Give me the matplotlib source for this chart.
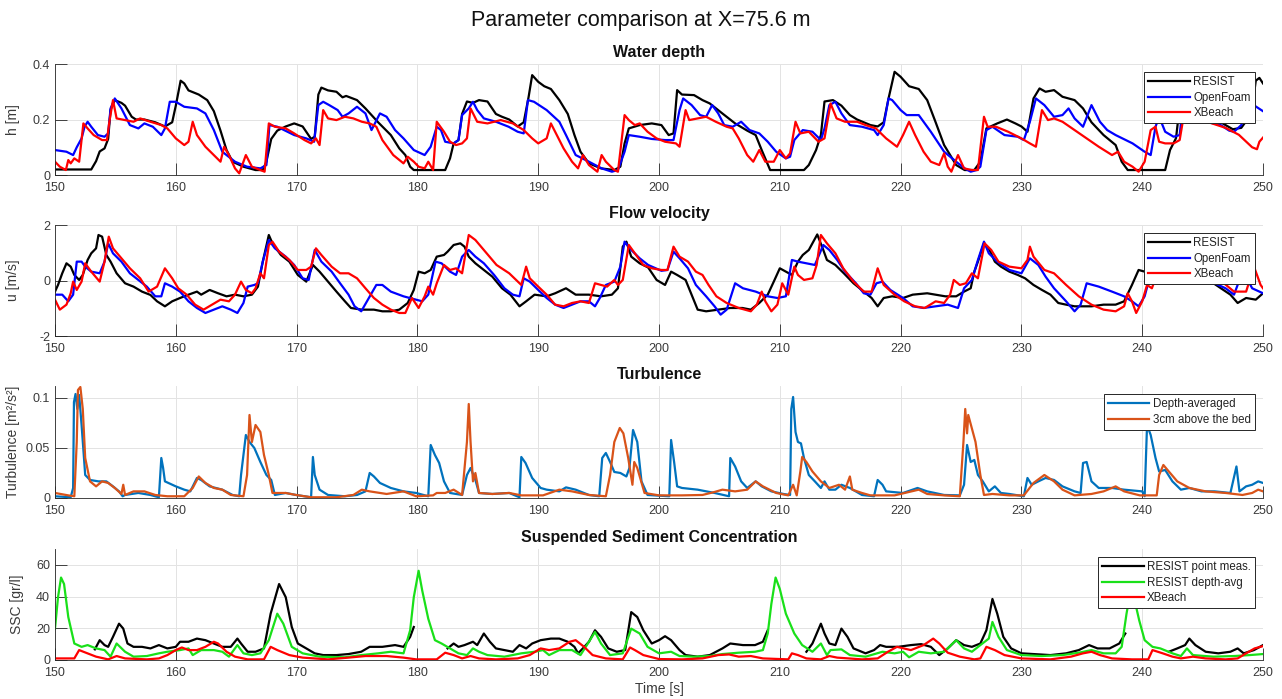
import numpy as np
import matplotlib
matplotlib.use("Agg")
import matplotlib.pyplot as plt

plt.rcParams["font.family"] = ["Liberation Sans", "DejaVu Sans"]

# (time [s], value) samples for each series

# water depth h [m]
h_resist = [(150, 0.02), (153, 0.02), (153.4, 0.05), (153.7, 0.085), (154.1, 0.096), (154.4, 0.13), (154.6, 0.235),
            (154.95, 0.27), (155.5, 0.26), (155.8, 0.25), (156.35, 0.21), (156.7, 0.2), (157.4, 0.2), (158.3, 0.19),
            (159.1, 0.175), (159.7, 0.19), (160, 0.25), (160.4, 0.34), (160.7, 0.33), (161.05, 0.305), (161.9, 0.29),
            (162.6, 0.27), (163.15, 0.23), (163.7, 0.16), (164.2, 0.09), (164.7, 0.048), (165.6, 0.03), (166.6, 0.018),
            (167.2, 0.018), (167.5, 0.048), (167.9, 0.13), (168.4, 0.16), (169.1, 0.175), (169.8, 0.186), (170.5, 0.175),
            (171.2, 0.13), (171.5, 0.138), (171.8, 0.29), (172.05, 0.315), (172.6, 0.305), (173.3, 0.3), (173.8, 0.28),
            (174.1, 0.285), (175, 0.27), (175.7, 0.24), (176.75, 0.19), (177.8, 0.144), (178.5, 0.096), (179, 0.072),
            (179.4, 0.03), (179.7, 0.018), (182.3, 0.018), (182.7, 0.06), (183, 0.114), (183.4, 0.126), (183.7, 0.22),
            (184.1, 0.265), (184.6, 0.26), (185.1, 0.27), (185.8, 0.265), (186.5, 0.22), (187, 0.21), (187.6, 0.2),
            (188.3, 0.175), (188.8, 0.19), (189.2, 0.28), (189.5, 0.36), (190, 0.336), (190.5, 0.32), (191.05, 0.31),
            (191.75, 0.27), (192.45, 0.22), (193, 0.144), (193.5, 0.084), (194.2, 0.042), (195.2, 0.024), (196.3, 0.018),
            (196.8, 0.03), (197.15, 0.114), (197.5, 0.168), (198.4, 0.18), (199.4, 0.186), (200.2, 0.18), (200.8, 0.144),
            (201.2, 0.15), (201.5, 0.306), (201.9, 0.29), (202.9, 0.288), (203.6, 0.27), (204.2, 0.258), (205.3, 0.22),
            (206.3, 0.186), (207.3, 0.16), (208, 0.144), (208.5, 0.09), (209.2, 0.018), (212, 0.018), (212.4, 0.036),
            (213, 0.09), (213.4, 0.144), (213.7, 0.265), (214.4, 0.27), (215.1, 0.25), (215.8, 0.216), (216.4, 0.2),
            (217.5, 0.18), (218.1, 0.175), (218.6, 0.19), (219, 0.276), (219.5, 0.372), (220, 0.354), (220.7, 0.32),
            (221.5, 0.31), (222.2, 0.27), (222.9, 0.19), (223.6, 0.108), (224.6, 0.036), (225.3, 0.018), (226.1, 0.018),
            (226.6, 0.048), (227.1, 0.168), (228, 0.186), (228.8, 0.2), (229.5, 0.186), (230, 0.175), (230.5, 0.156),
            (231, 0.276), (231.5, 0.312), (232, 0.3), (232.7, 0.306), (233.4, 0.282), (234.4, 0.27), (235.1, 0.24),
            (235.8, 0.19), (236.8, 0.144), (237.8, 0.108), (238.3, 0.048), (238.8, 0.018), (241.9, 0.018), (242.3, 0.09),
            (242.8, 0.133), (243, 0.21), (243.3, 0.27), (243.8, 0.22), (244.5, 0.21), (245.5, 0.2), (246.5, 0.19),
            (247.5, 0.165), (248.2, 0.17), (248.7, 0.2), (249.1, 0.24), (249.4, 0.34), (249.7, 0.35), (250, 0.33)]

h_openfoam = [(150, 0.09), (150.95, 0.084), (151.5, 0.072), (151.8, 0.1), (152.2, 0.132), (152.45, 0.174), (152.7, 0.192),
              (153, 0.174), (153.55, 0.144), (154.1, 0.138), (154.4, 0.15), (154.6, 0.24), (154.95, 0.276), (155.5, 0.24),
              (156.2, 0.18), (156.9, 0.168), (157.4, 0.186), (158.1, 0.174), (158.8, 0.144), (159.1, 0.168), (159.5, 0.264),
              (160, 0.264), (160.7, 0.246), (161.75, 0.24), (162.45, 0.222), (163.15, 0.162), (163.85, 0.084), (164.9, 0.048),
              (165.9, 0.03), (167, 0.024), (167.5, 0.036), (167.75, 0.18), (168.4, 0.174), (169.8, 0.144), (170.8, 0.132),
              (171.45, 0.12), (171.8, 0.252), (172.2, 0.264), (172.7, 0.252), (173.4, 0.234), (173.8, 0.21), (174.3, 0.222),
              (175, 0.246), (175.7, 0.222), (176.2, 0.162), (176.9, 0.222), (177.45, 0.21), (178.15, 0.162), (178.85, 0.132),
              (179.7, 0.09), (180.6, 0.072), (181.1, 0.102), (181.6, 0.174), (181.95, 0.162), (182.3, 0.12), (183, 0.114),
              (183.4, 0.126), (183.7, 0.216), (184.25, 0.24), (184.6, 0.264), (184.95, 0.234), (185.5, 0.204), (186.5, 0.192),
              (187.55, 0.174), (188.3, 0.156), (188.8, 0.15), (189.15, 0.27), (189.65, 0.264), (190.7, 0.234), (191.75, 0.192),
              (192.3, 0.144), (193.1, 0.072), (194.2, 0.048), (195.25, 0.024), (196.1, 0.012), (196.6, 0.018), (197.15, 0.084),
              (197.5, 0.144), (198.4, 0.138), (199.4, 0.13), (200.5, 0.126), (201.2, 0.126), (201.7, 0.234), (202, 0.276),
              (202.7, 0.252), (203.4, 0.216), (203.9, 0.21), (204.4, 0.252), (204.9, 0.222), (205.4, 0.18), (206.1, 0.174),
              (206.8, 0.192), (207.5, 0.162), (208.3, 0.15), (209, 0.12), (209.7, 0.084), (210.5, 0.06), (210.85, 0.066),
              (211.2, 0.126), (211.9, 0.162), (212.7, 0.156), (213.4, 0.126), (213.7, 0.168), (214.1, 0.252), (214.6, 0.264),
              (215.1, 0.222), (215.8, 0.18), (216.8, 0.174), (217.8, 0.162), (218.1, 0.144), (218.6, 0.18), (219, 0.276),
              (219.3, 0.27), (220, 0.234), (220.5, 0.216), (221.5, 0.216), (222.5, 0.156), (223.6, 0.084), (224.6, 0.048),
              (225.3, 0.024), (225.8, 0.012), (226.3, 0.018), (226.6, 0.03), (227.1, 0.162), (227.6, 0.174), (228.6, 0.144),
              (229.7, 0.138), (230.2, 0.126), (230.7, 0.192), (231.2, 0.276), (231.9, 0.252), (232.7, 0.21), (233.4, 0.216),
              (233.9, 0.24), (234.4, 0.204), (235.1, 0.174), (235.8, 0.252), (236.5, 0.192), (237.1, 0.162), (237.8, 0.144),
              (239.2, 0.114), (240.2, 0.084), (240.7, 0.072), (241.1, 0.174), (241.4, 0.21), (241.9, 0.156), (242.6, 0.138),
              (243.1, 0.144), (243.4, 0.264), (243.7, 0.22), (244.5, 0.2), (245.5, 0.19), (246.5, 0.18), (247.2, 0.16),
              (247.6, 0.156), (248.2, 0.18), (248.7, 0.252), (249.3, 0.25), (250, 0.23)]

h_xbeach = [(150, 0.048), (150.4, 0.03), (150.9, 0.018), (151.1, 0.054), (151.3, 0.042), (151.6, 0.06), (152, 0.048),
            (152.35, 0.186), (152.7, 0.168), (153.2, 0.144), (153.9, 0.126), (154.3, 0.126), (154.5, 0.192), (154.8, 0.27),
            (155.1, 0.204), (155.8, 0.198), (156.5, 0.192), (157.05, 0.204), (157.9, 0.192), (158.8, 0.18), (159.3, 0.168),
            (160, 0.132), (160.7, 0.108), (161.05, 0.12), (161.4, 0.192), (161.75, 0.144), (162.45, 0.102), (163.15, 0.072),
            (163.7, 0.048), (164, 0.102), (164.4, 0.072), (164.9, 0.024), (165.25, 0.006), (165.8, 0.072), (166.3, 0.03),
            (167, 0.018), (167.35, 0.012), (167.7, 0.186), (168.2, 0.174), (169.1, 0.168), (169.8, 0.15), (170.65, 0.126),
            (171.2, 0.114), (171.6, 0.132), (171.9, 0.108), (172.2, 0.234), (172.6, 0.204), (173.3, 0.198), (174, 0.21),
            (174.7, 0.204), (175.4, 0.192), (176.05, 0.186), (176.6, 0.174), (177.1, 0.126), (178, 0.072), (178.85, 0.042),
            (179.2, 0.066), (179.7, 0.048), (180.1, 0.03), (180.6, 0.024), (180.9, 0.048), (181.3, 0.018), (181.6, 0.192),
            (182.2, 0.156), (182.7, 0.12), (183.2, 0.108), (183.7, 0.114), (184.1, 0.132), (184.4, 0.24), (184.95, 0.192),
            (185.8, 0.186), (186.9, 0.198), (187.9, 0.186), (188.8, 0.162), (189.5, 0.132), (190, 0.114), (190.7, 0.132),
            (191.05, 0.186), (191.4, 0.156), (192.1, 0.096), (192.8, 0.048), (193.3, 0.024), (193.7, 0.072), (194.2, 0.036),
            (194.9, 0.012), (195.25, 0.072), (195.6, 0.048), (196.3, 0.018), (196.6, 0.012), (197.15, 0.216), (197.5, 0.198),
            (198, 0.18), (198.4, 0.186), (199.05, 0.156), (199.8, 0.132), (200.5, 0.12), (201.4, 0.114), (201.7, 0.102),
            (202.2, 0.234), (202.5, 0.198), (203.2, 0.204), (203.9, 0.21), (204.7, 0.192), (205.6, 0.174), (206.1, 0.168),
            (206.6, 0.132), (207.3, 0.072), (207.8, 0.048), (208.3, 0.09), (208.8, 0.048), (209.5, 0.048), (210, 0.09),
            (210.5, 0.06), (210.85, 0.078), (211.3, 0.192), (211.7, 0.15), (212.4, 0.156), (213.2, 0.12), (213.7, 0.132),
            (214.2, 0.258), (214.7, 0.204), (215.4, 0.192), (216.4, 0.192), (217.1, 0.18), (217.95, 0.168), (218.8, 0.132),
            (219.7, 0.102), (220.2, 0.144), (220.7, 0.192), (221.2, 0.144), (221.9, 0.084), (222.5, 0.048), (223.2, 0.036),
            (223.6, 0.078), (223.9, 0.03), (224.2, 0.012), (224.75, 0.072), (225.25, 0.024), (225.9, 0.018), (226.4, 0.018),
            (226.9, 0.21), (227.2, 0.174), (227.9, 0.174), (228.9, 0.156), (230, 0.132), (230.7, 0.114), (231.2, 0.102),
            (231.7, 0.234), (232.2, 0.198), (232.7, 0.204), (233.4, 0.192), (234.4, 0.162), (235.4, 0.132), (236.4, 0.102),
            (237.5, 0.072), (238, 0.084), (238.5, 0.048), (239.2, 0.03), (239.7, 0.012), (240.2, 0.048), (240.7, 0.162),
            (241.1, 0.174), (241.4, 0.12), (241.9, 0.114), (242.6, 0.114), (243.1, 0.126), (243.4, 0.204), (244, 0.204),
            (245.5, 0.19), (246.9, 0.17), (248, 0.145), (249.1, 0.1), (249.5, 0.093), (249.7, 0.12), (250, 0.135)]

# flow velocity u [m/s]
u_resist = [(150, -0.4), (150.25, -0.16), (150.6, 0.26), (150.95, 0.62), (151.3, 0.5), (151.6, 0.2), (152, 0.02),
            (152.3, 0.2), (152.7, 0.74), (153, 0.98), (153.4, 1.16), (153.6, 1.64), (153.9, 1.58), (154.25, 0.92),
            (154.6, 0.68), (155.1, 0.26), (155.8, -0.1), (156.5, -0.22), (157.2, -0.4), (157.9, -0.52), (158.45, -0.75),
            (159.1, -0.93), (159.7, -0.75), (160.35, -0.63), (161.05, -0.51), (161.75, -0.4), (162.1, -0.51), (162.8, -0.34),
            (163.5, -0.46), (164.2, -0.57), (164.9, -0.51), (165.6, -0.57), (166.3, -0.51), (166.8, -0.22), (167.2, 0.68),
            (167.7, 1.64), (168, 1.34), (168.7, 0.92), (169.4, 0.68), (170.1, 0.2), (170.8, -0.04), (171.35, 0.56),
            (171.9, 0.32), (172.6, -0.04), (173.3, -0.4), (174, -0.75), (174.5, -0.99), (175.4, -1.05), (176.4, -1.05),
            (177.1, -1.11), (177.8, -1.11), (178.5, -1.05), (179.2, -0.81), (179.7, -0.34), (180.1, 0.32), (180.6, 0.26),
            (181.1, 0.38), (181.6, 0.86), (182.2, 0.92), (182.5, 1.04), (183, 1.28), (183.55, 1.34), (183.9, 1.22),
            (184.25, 0.86), (184.8, 0.62), (185.5, 0.38), (186.2, 0.14), (187, -0.28), (187.7, -0.51), (188.45, -0.93),
            (189, -0.75), (189.7, -0.51), (190.7, -0.57), (191.4, -0.46), (192.3, -0.28), (193.1, -0.51), (194.2, -0.51),
            (195.2, -0.57), (196.1, -0.51), (196.6, -0.28), (197, 1.22), (197.3, 1.4), (197.7, 0.86), (198.4, 0.62),
            (199.1, 0.47), (199.8, 0.02), (200.5, -0.16), (201, 0.32), (201.5, 0.2), (202.2, 0.02), (202.7, -0.51),
            (203.2, -1.05), (203.9, -1.11), (204.9, -1.05), (205.9, -0.99), (206.9, -0.99), (207.6, -1.05), (208.3, -0.81),
            (209, -0.51), (209.5, -0.04), (210, 0.44), (210.5, 0.32), (211, 0.2), (211.5, 0.68), (211.9, 0.92), (212.4, 1.1),
            (212.7, 1.34), (213.1, 1.66), (213.6, 1.1), (213.9, 0.74), (214.6, 0.56), (215.3, 0.26), (216.1, -0.1),
            (216.95, -0.4), (217.6, -0.63), (218.1, -0.93), (218.6, -0.63), (219.3, -0.57), (220.2, -0.63), (221, -0.51),
            (222.2, -0.46), (222.9, -0.51), (223.7, -0.57), (224.6, -0.57), (225.25, -0.4), (225.8, -0.28), (226.1, 0.32),
            (226.4, 0.68), (226.9, 1.34), (227.3, 1.16), (227.8, 0.68), (228.3, 0.5), (229, 0.32), (229.7, 0.2), (230.3, 0.08),
            (231, -0.16), (231.7, -0.34), (232.4, -0.51), (233.05, -0.81), (233.7, -0.87), (234.4, -0.93), (235.1, -0.93),
            (235.8, -0.93), (236.8, -0.87), (237.8, -0.87), (238.5, -0.75), (239.15, -0.16), (239.7, 0.38), (240.2, 0.32),
            (241, 0.4), (242, 0.35), (243, 0.3), (244, 0.25), (245, 0.1), (245.9, -0.1), (247.3, -0.51), (247.9, -0.81),
            (248.6, -0.63), (249.4, -0.69), (250, -0.46)]

u_openfoam = [(150, -0.51), (150.6, -0.51), (151.1, -0.75), (151.5, -0.51), (151.8, 0.68), (152.2, 0.68), (152.5, 0.5),
              (153, 0.32), (153.7, 0.26), (154.1, 0.68), (154.4, 1.34), (154.8, 0.98), (155.5, 0.68), (156.2, 0.26),
              (156.9, 0.02), (157.6, -0.22), (158.3, -0.57), (158.8, -0.57), (159.1, -0.1), (159.7, -0.22), (160.35, -0.4),
              (161.05, -0.75), (161.75, -0.99), (162.45, -1.17), (163.15, -1.05), (163.85, -0.93), (164.55, -1.05),
              (165.1, -1.17), (165.6, -0.81), (165.95, -0.22), (166.5, -0.16), (166.8, -0.1), (167.2, 0.68), (167.7, 1.46),
              (168.2, 1.16), (169.1, 0.86), (169.8, 0.56), (170.5, 0.08), (171, 0.02), (171.5, 1.1), (172.05, 0.68),
              (172.9, 0.32), (173.6, -0.1), (174.3, -0.51), (174.8, -0.93), (175.35, -1.11), (175.9, -0.69), (176.6, -0.16),
              (177.1, -0.16), (177.8, -0.4), (178.85, -0.57), (179.9, -0.69), (180.4, -0.75), (180.9, -0.51), (181.5, 0.68),
              (182, 0.62), (182.7, 0.32), (183.2, 0.2), (183.7, 0.86), (184.25, 1.1), (184.8, 0.86), (185.5, 0.62),
              (186.35, 0.2), (187.2, -0.28), (187.9, -0.51), (188.45, -0.57), (188.8, 0.08), (189.3, -0.04), (190, -0.34),
              (190.7, -0.63), (191.4, -0.87), (192.1, -0.99), (192.8, -0.87), (193.5, -0.75), (194.2, -0.75), (194.7, -0.93),
              (195.1, -0.63), (195.6, -0.16), (196.3, -0.04), (196.8, 0.5), (197.15, 1.4), (197.7, 1.1), (198.4, 0.8),
              (199.1, 0.56), (200.2, 0.35), (200.7, 0.38), (201.2, 1.04), (201.7, 0.8), (202.4, 0.44), (203.05, -0.16),
              (203.9, -0.57), (204.6, -0.93), (205.1, -1.23), (205.6, -1.05), (206.3, -0.1), (206.95, -0.28), (208, -0.4),
              (209, -0.57), (209.8, -0.63), (210.5, -0.57), (211, 0.74), (211.5, 0.68), (212.2, 0.62), (212.9, 0.56),
              (213.6, 1.28), (214.1, 1.1), (214.75, 0.74), (215.4, 0.32), (216.3, -0.1), (216.95, -0.46), (217.5, -0.51),
              (218, -0.1), (218.5, -0.04), (219.15, -0.34), (220.2, -0.63), (221, -0.93), (221.9, -0.99), (222.9, -0.93),
              (223.9, -0.87), (224.75, -0.99), (225.25, -0.28), (225.9, 0.02), (226.4, 0.74), (226.9, 1.4), (227.3, 0.98),
              (228, 0.68), (229, 0.38), (230, 0.26), (230.7, 0.8), (231.4, 0.56), (232, 0.14), (232.7, -0.28), (233.7, -0.75),
              (234.4, -1.11), (234.9, -0.87), (235.4, -0.1), (236.4, -0.22), (237.5, -0.4), (238.5, -0.57), (239.15, -0.75),
              (239.7, -0.93), (240.2, -0.57), (240.6, 0.08), (241, 0.3), (242, 0.35), (243, 0.3), (244, 0.2), (245, 0.05),
              (246, -0.1), (246.9, -0.28), (247.6, -0.51), (248, -0.04), (248.6, 0.14), (249.1, -0.28), (250, -0.46)]

u_xbeach = [(150, -0.69), (150.4, -1.05), (150.95, -0.87), (151.3, -0.46), (151.5, -0.04), (151.8, -0.34), (152.2, -0.04),
            (152.5, 0.62), (153, 0.32), (153.7, -0.04), (154.1, 0.68), (154.45, 1.58), (154.8, 1.16), (155.5, 0.8),
            (156.2, 0.44), (157.05, 0.08), (157.75, -0.4), (158.45, -0.22), (159.1, 0.44), (159.7, 0.08), (160.2, -0.28),
            (160.9, -0.51), (161.6, -0.87), (162.3, -1.05), (163, -0.87), (163.7, -0.69), (164.4, -0.75), (164.9, -0.51),
            (165.4, -0.04), (165.8, -0.34), (166.3, -0.46), (166.6, -0.28), (167, 0.26), (167.3, 0.08), (167.7, 1.28),
            (168, 1.4), (168.55, 1.04), (169.4, 0.74), (170.1, 0.38), (170.8, 0.38), (171.2, 0.5), (171.6, 1.16),
            (172.05, 0.92), (172.9, 0.5), (173.6, 0.26), (174.3, 0.26), (175, 0.08), (175.7, -0.28), (176.4, -0.63),
            (177.1, -0.87), (177.8, -1.05), (178.5, -1.17), (179, -1.17), (179.55, -0.63), (180.1, -0.99), (180.6, -0.57),
            (180.9, -0.22), (181.3, -0.51), (181.6, -0.1), (182.2, 0.56), (182.7, 0.38), (183.2, 0.44), (183.7, 0.26),
            (184.25, 1.64), (184.8, 1.46), (185.5, 1.1), (186.55, 0.56), (187.6, 0.26), (188.6, -0.16), (189, 0.5),
            (189.3, 0.08), (190, -0.22), (190.7, -0.51), (191.4, -0.87), (192.1, -0.93), (192.8, -0.81), (193.5, -0.75),
            (194.2, -0.81), (194.7, -0.1), (195.2, -0.16), (195.7, -0.22), (196.3, 0.02), (196.6, -0.16), (197, 0.02),
            (197.5, 1.28), (198, 0.98), (198.7, 0.56), (199.4, 0.44), (200.2, 0.38), (200.7, 0.38), (201.2, 1.22),
            (201.7, 0.86), (202.4, 0.68), (203.05, 0.32), (203.6, 0.2), (204.1, -0.16), (204.75, -0.57), (205.6, -0.81),
            (206.6, -0.99), (207.6, -1.11), (208.1, -0.87), (208.5, -0.4), (208.8, -0.75), (209.3, -1.11), (209.8, -0.87),
            (210.2, -0.1), (210.7, -0.51), (211.2, 0.5), (211.5, 0.2), (212, 0.02), (212.7, 0.08), (213.05, 0.56),
            (213.4, 1.64), (213.9, 1.34), (214.6, 0.98), (215.25, 0.44), (216.1, -0.04), (216.95, -0.4), (217.6, -0.4),
            (218.1, 0.44), (218.6, -0.16), (219.5, -0.51), (220.3, -0.75), (221.2, -0.93), (222, -0.99), (222.9, -0.75),
            (223.6, -0.81), (224.1, -0.51), (224.4, 0.02), (224.9, -0.16), (225.4, -0.1), (225.9, 0.26), (226.4, 0.08),
            (226.95, 1.34), (227.5, 1.1), (228.1, 0.68), (229, 0.5), (230, 0.44), (230.5, 0.74), (230.7, 1.22), (231, 0.86),
            (231.9, 0.38), (232.7, 0.26), (233.7, -0.16), (234.75, -0.57), (235.8, -0.87), (236.8, -1.05), (237.8, -1.11),
            (238.5, -0.93), (238.8, -0.46), (239.15, -0.75), (239.5, -1.17), (240, -0.75), (240.4, -0.16), (240.8, -0.28),
            (241.1, 0.08), (241.8, 0.3), (242.4, -0.1), (242.9, -0.04), (243.2, 0.2), (244.5, 0.3), (245.5, 0.2),
            (246.6, -0.04), (247.6, -0.4), (248.6, -0.4), (249.25, 0.5), (249.8, -0.16), (250, -0.28)]

# turbulence [m2/s2]
k_depth_avg = [(150, 0.0017), (151.3, 0.0007), (151.5, 0.01), (151.57, 0.096), (151.7, 0.104), (151.85, 0.089),
               (152, 0.103), (152.2, 0.073), (152.5, 0.023), (152.9, 0.018), (153.6, 0.0166), (154.25, 0.0166),
               (154.8, 0.0116), (155.3, 0.0066), (155.6, 0.0017), (155.8, 0.003), (156.9, 0.005), (157.9, 0.003),
               (158.6, 0.0007), (158.8, 0.04), (158.95, 0.03), (159.1, 0.0166), (159.7, 0.0132), (160, 0.0116),
               (160.7, 0.0083), (161.2, 0.0066), (161.75, 0.02), (162.1, 0.018), (162.8, 0.0116), (163.85, 0.0083),
               (164.7, 0.003), (165.25, 0.0017), (165.4, 0.023), (165.8, 0.063), (166.1, 0.056), (166.5, 0.05), (167, 0.036),
               (167.5, 0.023), (167.9, 0.018), (168.2, 0.003), (169.1, 0.005), (169.95, 0.003), (171.2, 0.0007),
               (171.35, 0.041), (171.5, 0.023), (171.9, 0.0083), (172.6, 0.003), (174, 0.0017), (175, 0.003), (175.7, 0.0066),
               (176.05, 0.025), (176.4, 0.0215), (176.9, 0.015), (177.8, 0.01), (178.85, 0.0066), (179.9, 0.005),
               (180.9, 0.0017), (181.1, 0.053), (181.45, 0.043), (181.8, 0.035), (182.2, 0.0166), (182.7, 0.005),
               (183.7, 0.003), (184.1, 0.023), (184.4, 0.03), (184.8, 0.018), (185.1, 0.005), (186.2, 0.004), (187.6, 0.005),
               (188.45, 0.0007), (188.6, 0.041), (188.95, 0.035), (189.5, 0.02), (190.2, 0.01), (190.7, 0.0083),
               (191.75, 0.0066), (192.3, 0.0106), (193.1, 0.0083), (194.2, 0.003), (195.05, 0.0017), (195.3, 0.04),
               (195.6, 0.045), (195.95, 0.036), (196.3, 0.026), (196.8, 0.025), (197.3, 0.0215), (197.55, 0.03),
               (197.85, 0.068), (198.2, 0.056), (198.55, 0.0166), (199.05, 0.003), (200.85, 0.0017), (201, 0.058),
               (201.25, 0.036), (201.5, 0.0116), (201.9, 0.01), (203.2, 0.0083), (204.6, 0.005), (205.8, 0.0017),
               (205.9, 0.04), (206.3, 0.0315), (206.8, 0.0166), (207.3, 0.01), (208, 0.0166), (208.5, 0.0116),
               (209.3, 0.0066), (210.3, 0.004), (210.85, 0.003), (210.95, 0.089), (211.1, 0.101), (211.3, 0.066),
               (211.5, 0.056), (211.75, 0.0546), (212, 0.04), (212.4, 0.023), (212.9, 0.0166), (213.4, 0.01), (213.7, 0.0166),
               (214.1, 0.0083), (214.6, 0.0083), (215.1, 0.0132), (215.8, 0.01), (216.8, 0.003), (217.8, 0.0017),
               (218.1, 0.018), (218.5, 0.0132), (218.8, 0.0066), (220.2, 0.005), (221.4, 0.01), (222.2, 0.0066),
               (223.6, 0.003), (224.9, 0.0026), (225.25, 0.0132), (225.5, 0.053), (225.8, 0.036), (226.1, 0.038),
               (226.4, 0.023), (226.8, 0.0166), (227.3, 0.0066), (227.8, 0.0116), (228.3, 0.005), (229, 0.004),
               (230.2, 0.0017), (230.5, 0.02), (230.85, 0.0132), (231.4, 0.0166), (232, 0.02), (232.7, 0.018), (233.4, 0.0116),
               (234.4, 0.0066), (234.9, 0.005), (235.1, 0.035), (235.4, 0.036), (235.8, 0.0166), (236.4, 0.01), (237.5, 0.01),
               (238.5, 0.0083), (240, 0.0066), (240.2, 0.0017), (240.4, 0.073), (240.7, 0.063), (241.1, 0.04),
               (241.4, 0.0265), (241.9, 0.028), (242.5, 0.0166), (243.2, 0.0083), (243.9, 0.01), (244.9, 0.0066),
               (246, 0.0066), (247.3, 0.005), (247.8, 0.0315), (248.05, 0.0066), (248.6, 0.0116), (249.1, 0.0132),
               (249.6, 0.0166), (250, 0.015)]

k_near_bed = [(150, 0.005), (151.1, 0.0026), (151.6, 0.0017), (151.8, 0.056), (151.9, 0.108), (152.1, 0.111),
              (152.3, 0.089), (152.5, 0.04), (152.9, 0.0166), (153.4, 0.0116), (153.9, 0.0166), (154.4, 0.015),
              (154.95, 0.01), (155.5, 0.004), (155.65, 0.0132), (155.8, 0.003), (156.5, 0.0066), (157.4, 0.0066),
              (158.3, 0.003), (159.3, 0.0017), (160.7, 0.0017), (161.4, 0.01), (161.9, 0.0215), (162.45, 0.015),
              (163.15, 0.01), (163.85, 0.0083), (164.55, 0.003), (165.6, 0.0017), (165.9, 0.023), (166.1, 0.083),
              (166.3, 0.056), (166.6, 0.073), (167, 0.066), (167.3, 0.043), (167.7, 0.023), (168, 0.005), (169.1, 0.005),
              (169.95, 0.003), (171.2, 0.0007), (173.3, 0.0007), (174.7, 0.003), (175.4, 0.0083), (176.05, 0.0066),
              (177.45, 0.004), (178.85, 0.0066), (179.9, 0.0017), (181.3, 0.0026), (181.6, 0.005), (182.3, 0.005),
              (183, 0.0083), (183.7, 0.003), (184.1, 0.056), (184.25, 0.094), (184.4, 0.056), (184.6, 0.0166),
              (184.8, 0.025), (185.1, 0.005), (186.2, 0.004), (187.6, 0.005), (188.6, 0.0026), (190.4, 0.0026),
              (191.75, 0.0083), (192.8, 0.0066), (194.2, 0.003), (195.6, 0.0017), (195.95, 0.023), (196.3, 0.056),
              (196.75, 0.07), (197.05, 0.0646), (197.45, 0.04), (197.8, 0.0132), (197.95, 0.036), (198.2, 0.03),
              (198.8, 0.005), (200, 0.0026), (201.9, 0.0026), (203.6, 0.003), (204.6, 0.006), (205.25, 0.0083),
              (206.3, 0.0066), (207.3, 0.0083), (208, 0.0166), (208.6, 0.0116), (209.7, 0.005), (210.7, 0.0026),
              (211.1, 0.0132), (211.4, 0.0026), (211.7, 0.0265), (211.85, 0.041), (212.2, 0.036), (212.7, 0.0265),
              (213.4, 0.0166), (214.1, 0.01), (214.9, 0.0132), (215.4, 0.0083), (215.8, 0.0215), (216, 0.0083),
              (216.8, 0.005), (217.5, 0.0026), (219.5, 0.0026), (221.5, 0.0083), (222.2, 0.004), (223.6, 0.0026),
              (224.9, 0.0017), (225.2, 0.056), (225.35, 0.089), (225.5, 0.0646), (225.6, 0.083), (225.9, 0.0695),
              (226.2, 0.056), (226.6, 0.023), (226.9, 0.003), (227.6, 0.004), (229, 0.0026), (230.2, 0.0026), (231, 0.015),
              (231.9, 0.023), (232.7, 0.0166), (233.4, 0.0083), (234.4, 0.0026), (235.8, 0.004), (236.8, 0.0066),
              (237.8, 0.0116), (238.5, 0.0066), (239.8, 0.0026), (241.2, 0.0026), (241.4, 0.023), (241.75, 0.033),
              (242.2, 0.0265), (242.9, 0.0166), (243.9, 0.01), (245.25, 0.0066), (246.9, 0.005), (248.3, 0.003),
              (249.1, 0.005), (249.6, 0.0083), (250, 0.0066)]

# suspended sediment concentration [gr/l]; NaN marks gaps in the point record
ssc_point = [(153.3, 6.7), (153.7, 12.5), (154.1, 9.4), (154.4, 8.3), (154.8, 14.6), (155.3, 22.9), (155.65, 19.8),
             (156, 10.4), (156.5, 8.3), (157.2, 8.3), (157.9, 7.3), (158.6, 9.4), (159.3, 7.3), (160, 8.3), (160.35, 11.5),
             (161.05, 11.5), (161.75, 13.5), (162.45, 12.5), (163.15, 10.4), (163.85, 8.3), (164.55, 8.3), (165.1, 13.5),
             (165.4, 10.4), (165.95, 5.2), (166.6, 5.2), (167.3, 7.3), (167.85, 29.2), (168.55, 47.9), (169.1, 39.6),
             (169.6, 20.8), (170.1, 10.4), (170.8, 7.3), (171.5, 4.2), (172.2, 3.1), (173.3, 3.1), (174.3, 3.75),
             (175.35, 5.2), (176.05, 8.3), (177.1, 8.3), (178.15, 9.4), (178.85, 8.3), (179.4, 14.6), (179.7, 20.8),
             (179.8, np.nan), (182.5, 7.3), (183, 10.4), (183.4, 8.3), (183.9, 9.4), (184.6, 11.5), (184.95, 9.4),
             (185.5, 16.7), (186, 11.5), (186.5, 7.3), (187.2, 6.25), (187.9, 5.2), (188.45, 9.4), (189, 7.3),
             (189.5, 10.4), (190.2, 12.5), (191.05, 13.5), (191.75, 13.5), (192.45, 11.5), (193, 8.3), (193.3, 4.2),
             (193.7, 7.3), (194.2, 11.5), (194.7, 18.75), (195.2, 14.6), (195.8, 7.3), (196.5, 5.2), (197.2, 6.25),
             (197.7, 30.2), (198.2, 27.1), (198.7, 18.75), (199.4, 10.4), (200, 12.5), (200.5, 15), (201, 12.5),
             (201.7, 6.25), (202.2, 3.1), (203.2, 2.1), (204.2, 3.1), (205.25, 7.3), (205.9, 10.4), (206.95, 9.4),
             (207.95, 9.4), (208.6, 11.5), (209, 18.75), (209.1, np.nan), (212.2, 5.2), (212.7, 10.4), (213.4, 22.9),
             (213.7, 16.7), (214.1, 10.4), (214.6, 9.4), (215.1, 19.8), (215.6, 14.6), (216.1, 7.3), (217.1, 4.2),
             (217.8, 6.25), (218.3, 9.4), (218.8, 8.3), (219.8, 8.3), (220.85, 9.4), (221.7, 10), (222.5, 8.3),
             (223.2, 3.1), (223.9, 7.3), (224.6, 12.5), (225.25, 9.4), (225.9, 8.3), (226.6, 10.4), (227.1, 18.75),
             (227.6, 38.5), (228, 29.2), (228.5, 14.6), (229.15, 7.3), (230, 4.2), (231, 3.75), (232.4, 3.1), (233.7, 4.2),
             (234.75, 6.25), (235.6, 9.4), (236.3, 7.3), (237.3, 7.3), (238.1, 10.4), (238.6, 16.7), (238.7, np.nan),
             (242.2, 5.2), (242.9, 7.3), (243.55, 9.4), (243.9, 13.5), (244.4, 9.4), (245.25, 5.2), (246.3, 4.2),
             (247.3, 5.2), (247.9, 7.3), (248.4, 4.2), (249.25, 6.25), (250, 9.4)]

ssc_depth_avg = [(150, 19.8), (150.25, 39.6), (150.5, 52), (150.75, 47.9), (151.1, 27.1), (151.6, 10.4), (152.2, 8.3),
                 (152.7, 9.4), (153.4, 7.3), (154.1, 6.25), (154.6, 2.1), (155.1, 10.4), (155.8, 5.2), (156.5, 2.1),
                 (157.6, 2.5), (158.6, 4.2), (159.3, 5.2), (160.35, 6.25), (161.05, 7.3), (161.4, 3.1), (162.1, 6.25),
                 (163.15, 6.25), (163.85, 5.2), (164.4, 2.1), (165.1, 9.4), (165.6, 4.2), (166.3, 3.1), (167, 4.2),
                 (167.7, 12.5), (168.4, 29.2), (168.9, 22.9), (169.6, 8.3), (170.5, 4.2), (171.9, 2.1), (174, 1.7),
                 (175.35, 3.1), (176.75, 4.2), (177.8, 5.2), (178.85, 4.2), (179.4, 18.75), (179.7, 39.6), (180.1, 56.25),
                 (180.4, 43.75), (180.9, 26), (181.45, 12.5), (182, 10.4), (182.7, 7.3), (183.4, 4.2), (184.1, 3.1),
                 (184.6, 7.3), (185.1, 5.2), (185.8, 3.1), (187.2, 2.1), (188.6, 4.2), (189.7, 5.2), (190.4, 6.25),
                 (190.9, 3.1), (191.75, 6.25), (192.8, 6.25), (193.5, 3.1), (194.2, 11.5), (194.7, 17.7), (195.2, 10.4),
                 (195.95, 3.1), (197, 4.2), (197.7, 19.8), (198.4, 16.7), (199.05, 8.3), (200, 4.2), (201, 5.2),
                 (201.7, 2.5), (202.9, 2.1), (204.2, 2.5), (205.25, 3.75), (206.6, 4.6), (207.95, 5.2), (208.6, 6.25),
                 (209, 16.7), (209.3, 35.4), (209.65, 52), (210, 44.8), (210.5, 29.2), (211.2, 16.7), (211.85, 9.4),
                 (212.7, 5.2), (213.4, 10.4), (213.9, 3.1), (214.2, 6.25), (215.1, 6.7), (215.8, 3.1), (217.1, 2.1),
                 (218.5, 5.2), (219.5, 4.2), (220.2, 5.2), (220.7, 1.7), (221.5, 5.2), (222.5, 4.2), (223.6, 5.2),
                 (224.6, 12.5), (225.25, 7.3), (225.9, 5.2), (226.6, 9.4), (227.3, 13.5), (227.6, 24), (228.1, 14.6),
                 (228.8, 6.25), (230, 3.1), (231.7, 2.5), (233.4, 3.1), (234.75, 4.6), (235.8, 6.25), (236.8, 4.2),
                 (237.8, 4.2), (238.3, 8.3), (238.7, 29.2), (239, 42), (239.3, 40), (239.75, 25), (240.2, 12.5),
                 (240.85, 8.3), (241.5, 7.3), (242.5, 4.2), (243.2, 2.5), (243.7, 7.3), (244.2, 3.1), (245.9, 2.1),
                 (247.6, 2.5), (248.9, 3.1), (250, 3.75)]

ssc_xbeach = [(150, 1), (151.6, 1), (152, 6.25), (152.35, 5.2), (153.4, 2.1), (154.4, 0.4), (155.1, 2.5), (155.8, 1),
              (157.6, 0.4), (158.6, 1), (159.3, 3.1), (160, 6.25), (160.5, 7.9), (161.05, 6.25), (161.75, 6.25),
              (162.45, 8.3), (163.15, 11.5), (163.5, 10.4), (164.2, 5.2), (164.9, 2.1), (165.95, 0.4), (167.3, 0.4),
              (167.85, 8.3), (168.4, 6.25), (169.4, 3.1), (170.5, 1.5), (172.6, 0.4), (174.3, 1.5), (175.7, 2.5),
              (177.45, 2.5), (178.85, 1.5), (179.9, 0.4), (181.6, 0.4), (182.3, 4.6), (183, 3.1), (183.7, 1), (184.4, 2.5),
              (185.1, 1), (186.5, 0.4), (188.3, 1), (189.3, 3.1), (190.2, 7.3), (190.9, 6.25), (191.75, 7.3), (192.6, 11.5),
              (193.1, 12.5), (193.8, 8.3), (194.5, 3.1), (195.6, 1), (197, 0.4), (197.6, 7.9), (198, 6.25), (198.7, 3.1),
              (200, 0.6), (201.9, 0.4), (203.6, 1), (204.9, 3.1), (205.8, 3.5), (206.6, 2.1), (207.6, 2.5), (208.6, 1),
              (210.7, 0.4), (211, 4.2), (211.5, 3.1), (212.2, 1), (213.4, 0.4), (214.1, 2.5), (214.75, 1.5), (216.8, 0.4),
              (218.1, 1), (218.95, 5.2), (219.7, 8.3), (220.85, 6.25), (221.9, 9.4), (222.7, 13.5), (223.2, 10.4),
              (223.9, 4.6), (224.9, 2.1), (226.1, 0.4), (226.6, 1), (227.1, 8.3), (227.8, 6.25), (228.6, 3.1), (230, 1),
              (232.4, 0.4), (234.1, 2.1), (235.1, 4.2), (235.8, 5.2), (236.5, 3.1), (237.5, 1), (239.15, 0.4),
              (240.5, 0.4), (240.85, 6.25), (241.7, 4.2), (242.5, 2.1), (243.2, 1), (244.2, 2.1), (245.25, 1),
              (246.9, 0.4), (247.9, 1), (248.6, 4.2), (249.3, 7.3), (250, 8.75)]

TEXT = "#262626"
GRID = "#e3e3e3"


def xy(points):
    arr = np.array(points, dtype=float)
    return arr[:, 0], arr[:, 1]


def style_axes(ax, title, ylabel, ylim, yticks, yticklabels, label_x=-0.029):
    ax.set_xlim(150, 250)
    ax.set_ylim(*ylim)
    ax.set_xticks(np.arange(150, 251, 10))
    ax.set_yticks(yticks)
    ax.set_yticklabels(yticklabels)
    ax.grid(True, color=GRID, linewidth=0.7)
    ax.set_axisbelow(True)
    for side in ("top", "right"):
        ax.spines[side].set_visible(False)
    for side in ("left", "bottom"):
        ax.spines[side].set_color(TEXT)
        ax.spines[side].set_linewidth(0.6)
    ax.tick_params(direction="in", length=8.6, width=0.6, color=TEXT,
                   labelsize=9, labelcolor="#3a3a3a")
    ax.tick_params(axis="x", pad=5)
    ax.tick_params(axis="y", pad=3.5)
    ax.set_title(title, fontsize=11.5, fontweight="bold", pad=5, color="#111111")
    ax.set_ylabel(ylabel, fontsize=10, color="#3a3a3a")
    ax.yaxis.set_label_coords(label_x, 0.5)


def add_legend(ax):
    leg = ax.legend(loc="upper right", fontsize=8.3, frameon=True, fancybox=False,
                    edgecolor=TEXT, framealpha=1, handlelength=3.6, labelspacing=0.3,
                    borderpad=0.35, borderaxespad=0.7, handletextpad=0.3)
    leg.get_frame().set_linewidth(0.7)
    for txt in leg.get_texts():
        txt.set_color("#222222")


fig = plt.figure(figsize=(12.82, 6.99), dpi=100)
left, width = 0.0429, 0.9423
ax1 = fig.add_axes([left, 0.7496, width, 0.1588])
ax2 = fig.add_axes([left, 0.5193, width, 0.1588])
ax3 = fig.add_axes([left, 0.2876, width, 0.1602])
ax4 = fig.add_axes([left, 0.0558, width, 0.1588])

lw = 1.6

# water depth
ax1.plot(*xy(h_resist), color="black", lw=lw, label="RESIST")
ax1.plot(*xy(h_openfoam), color="#0000ff", lw=lw, label="OpenFoam")
ax1.plot(*xy(h_xbeach), color="#ff0000", lw=lw, label="XBeach")
style_axes(ax1, "Water depth", "h [m]", (0, 0.4), [0, 0.2, 0.4], ["0", "0.2", "0.4"])
add_legend(ax1)

# flow velocity
ax2.plot(*xy(u_resist), color="black", lw=lw, label="RESIST")
ax2.plot(*xy(u_openfoam), color="#0000ff", lw=lw, label="OpenFoam")
ax2.plot(*xy(u_xbeach), color="#ff0000", lw=lw, label="XBeach")
style_axes(ax2, "Flow velocity", "u [m/s]", (-2, 2), [-2, 0, 2], ["-2", "0", "2"])
add_legend(ax2)

# turbulence
ax3.plot(*xy(k_depth_avg), color="#0072BD", lw=lw, label="Depth-averaged")
ax3.plot(*xy(k_near_bed), color="#D95319", lw=lw, label="3cm above the bed")
style_axes(ax3, "Turbulence", "Turbulence [m²/s²]", (0, 0.112), [0, 0.05, 0.1], ["0", "0.05", "0.1"])
add_legend(ax3)

# suspended sediment
ax4.plot(*xy(ssc_point), color="black", lw=lw, label="RESIST point meas.")
ax4.plot(*xy(ssc_depth_avg), color="#19e019", lw=lw, label="RESIST depth-avg")
ax4.plot(*xy(ssc_xbeach), color="#ff0000", lw=lw, label="XBeach")
style_axes(ax4, "Suspended Sediment Concentration", "SSC [gr/l]", (0, 70), [0, 20, 40, 60],
           ["0", "20", "40", "60"], label_x=-0.026)
ax4.set_xlabel("Time [s]", fontsize=10, color="#3a3a3a", labelpad=2)
add_legend(ax4)

fig.suptitle("Parameter comparison at X=75.6 m", fontsize=15.5, y=0.971, va="center", color="#111111")

fig.savefig("out.png", dpi=100)
